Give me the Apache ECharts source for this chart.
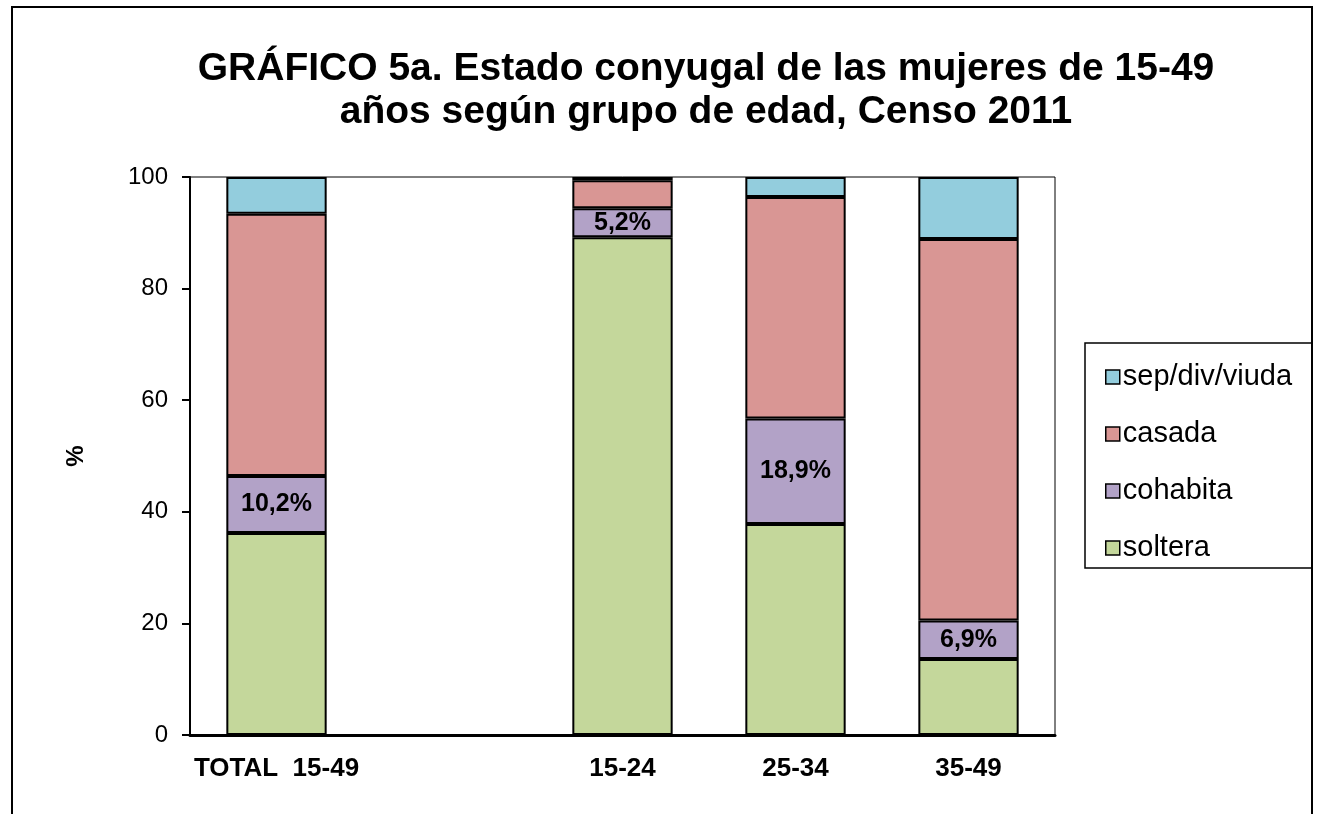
<!DOCTYPE html>
<html>
<head>
<meta charset="utf-8">
<script src="https://cdn.jsdelivr.net/npm/echarts@6/dist/echarts.min.js"></script>
<style>
html,body{margin:0;padding:0;background:#fff;}
#chart{width:1317px;height:814px;}
</style>
</head>
<body>
<div id="chart"></div>
<script>
const categories = ['TOTAL  15-49', '', '15-24', '25-34', '35-49'];
const soltera = [36.2, null, 89.2, 37.8, 13.6];
const cohabita = [10.2, null, 5.2, 18.9, 6.9];
const casada = [47.0, null, 5.0, 39.7, 68.4];
const sepDivViuda = [6.6, null, 0.6, 3.6, 11.1];
const yTicks = [0, 20, 40, 60, 80, 100];

const FONT = 'Arial, "Liberation Sans", sans-serif';
const chart = echarts.init(document.getElementById('chart'));

function barSeries(name, data, color, withLabel) {
  return {
    name: name,
    type: 'bar',
    stack: 'total',
    data: data,
    barWidth: '58%',
    itemStyle: { color: color, borderColor: '#000', borderWidth: 2 },
    label: withLabel ? {
      show: true,
      position: 'inside',
      formatter: p => String(p.value).replace('.', ',') + '%',
      color: '#000',
      fontFamily: FONT,
      fontWeight: 'bold',
      fontSize: 25
    } : { show: false },
    emphasis: { disabled: true }
  };
}

chart.setOption({
  animation: false,
  backgroundColor: '#fff',
  title: {
    text: 'GRÁFICO 5a. Estado conyugal de las mujeres de 15-49\naños según grupo de edad, Censo 2011',
    left: 706,
    textAlign: 'center',
    top: 43,
    padding: [5, 0, 5, 0],
    textStyle: { fontFamily: FONT, fontWeight: 'bold', fontSize: 39, lineHeight: 43, color: '#000' }
  },
  grid: { left: 190, right: 262, top: 177, bottom: 79, show: true, borderColor: '#000', borderWidth: 1 },
  legend: {
    orient: 'vertical',
    left: 1085,
    top: 343,
    data: ['sep/div/viuda', 'casada', 'cohabita', 'soltera'],
    icon: 'rect',
    itemWidth: 14,
    itemHeight: 14,
    itemGap: 27,
    padding: [19, 20, 5, 20],
    borderColor: '#000',
    borderWidth: 1.5,
    itemStyle: { borderColor: '#000', borderWidth: 1.5 },
    textStyle: { fontFamily: FONT, fontSize: 29, lineHeight: 30, color: '#000', padding: [0, 0, 0, -2] }
  },
  xAxis: {
    type: 'category',
    data: categories,
    axisLine: { lineStyle: { color: '#000', width: 3 } },
    axisTick: { show: false },
    axisLabel: { fontFamily: FONT, fontWeight: 'bold', fontSize: 26, color: '#000', margin: 21, interval: 0 }
  },
  yAxis: {
    type: 'value',
    min: 0,
    max: 100,
    interval: 20,
    name: '%',
    nameLocation: 'middle',
    nameGap: 102,
    nameTextStyle: { fontFamily: FONT, fontWeight: 'bold', fontSize: 24, color: '#000' },
    axisLine: { show: true, lineStyle: { color: '#000', width: 2 } },
    axisTick: { show: true, length: 8, lineStyle: { color: '#000', width: 2 } },
    splitLine: { show: false },
    axisLabel: { fontFamily: FONT, fontSize: 24, color: '#000', margin: 22,
      formatter: v => yTicks.includes(v) ? String(v) : '' }
  },
  graphic: [{
    type: 'rect',
    shape: { x: 12, y: 7, width: 1300, height: 830 },
    style: { fill: 'none', stroke: '#000', lineWidth: 2 },
    silent: true
  }],
  series: [
    barSeries('soltera', soltera, '#C4D79B', false),
    barSeries('cohabita', cohabita, '#B2A2C7', true),
    barSeries('casada', casada, '#D99694', false),
    barSeries('sep/div/viuda', sepDivViuda, '#93CDDD', false)
  ]
});
</script>
</body>
</html>
